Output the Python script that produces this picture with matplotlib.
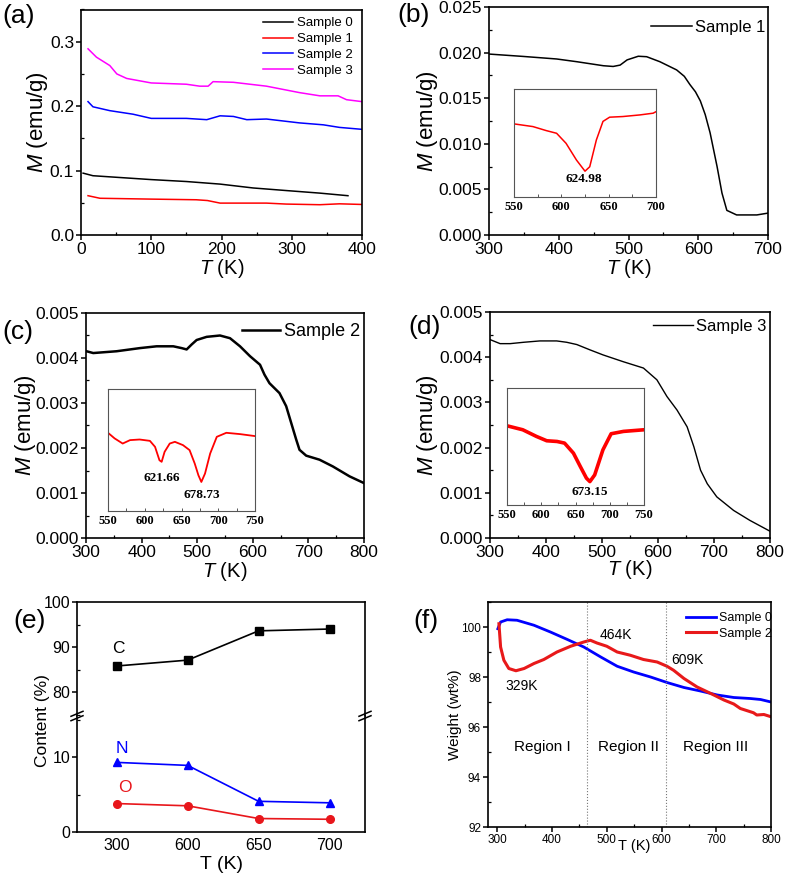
import numpy as np
import matplotlib
matplotlib.use('Agg')
import matplotlib.pyplot as plt
from matplotlib.ticker import MultipleLocator

plt.rcParams['font.family'] = ['Liberation Sans', 'DejaVu Sans']
plt.rcParams['mathtext.fontset'] = 'custom'
plt.rcParams['mathtext.it'] = 'Liberation Sans:italic'
plt.rcParams['mathtext.rm'] = 'Liberation Sans'

W, H = 787, 876

# (a) M-T, low temperature
a_t0 = [3, 17, 100, 150, 198, 245, 292, 340, 380]
a_m0 = [0.096, 0.092, 0.086, 0.083, 0.079, 0.073, 0.069, 0.065, 0.061]
a_t1 = [10, 27, 100, 164, 180, 198, 264, 292, 340, 368, 400]
a_m1 = [0.061, 0.057, 0.0557, 0.0547, 0.0535, 0.0495, 0.0495, 0.048, 0.047, 0.0484, 0.0474]
a_t2 = [10, 17, 41, 74, 100, 150, 179, 198, 217, 236, 264, 311, 345, 368, 400]
a_m2 = [0.207, 0.199, 0.193, 0.1875, 0.181, 0.181, 0.179, 0.185, 0.184, 0.179, 0.180,
        0.174, 0.171, 0.167, 0.164]
a_t3 = [10, 22, 41, 51, 65, 100, 150, 169, 181, 188, 217, 264, 311, 340, 366, 378, 400]
a_m3 = [0.289, 0.276, 0.263, 0.250, 0.243, 0.236, 0.234, 0.231, 0.231, 0.238, 0.237,
        0.231, 0.221, 0.216, 0.216, 0.210, 0.207]

# (b) sample 1
b_t = [300, 349, 397, 426, 464, 478, 488, 498, 514, 526, 545, 569, 580, 588, 596, 603,
       610, 617, 627, 634, 641, 655, 684, 700]
b_m = [0.01984, 0.01958, 0.0193, 0.0190, 0.01856, 0.01848, 0.01863, 0.0192, 0.0196,
       0.01955, 0.0190, 0.0181, 0.0174, 0.0165, 0.0157, 0.0147, 0.0132, 0.0112, 0.0075,
       0.0046, 0.0027, 0.0022, 0.0022, 0.0024]
bi_t = [550, 570, 584, 595, 605, 616, 625, 630, 637, 644, 651, 665, 683, 697, 700]
bi_m = [0.677, 0.652, 0.615, 0.59, 0.497, 0.342, 0.239, 0.28, 0.528, 0.70, 0.739, 0.745,
        0.76, 0.776, 0.79]

# (c) sample 2
c_t = [301, 313, 355, 397, 427, 457, 472, 481, 490, 499, 517, 541, 559, 577, 595, 613,
       621, 630, 648, 660, 669, 678, 684, 696, 720, 744, 774, 800]
c_m = [0.00415, 0.00411, 0.00415, 0.00422, 0.00426, 0.00426, 0.00422, 0.00419, 0.0043,
       0.0044, 0.00447, 0.0045, 0.00444, 0.00426, 0.00404, 0.00385, 0.00363, 0.00344,
       0.00322, 0.00293, 0.00256, 0.00219, 0.00196, 0.00183, 0.00174, 0.00159, 0.00137,
       0.00122]
ci_t = [550, 559, 570, 580, 593, 607, 614, 620, 623, 627, 634, 641, 652, 661, 668, 673,
        677, 682, 689, 698, 711, 730, 750]
ci_m = [0.641, 0.595, 0.553, 0.581, 0.586, 0.575, 0.526, 0.416, 0.403, 0.485, 0.553,
        0.567, 0.54, 0.499, 0.389, 0.293, 0.238, 0.307, 0.471, 0.608, 0.641, 0.63, 0.614]

# (d) sample 3
d_t = [300, 318, 336, 360, 389, 419, 437, 455, 479, 502, 538, 574, 598, 616, 634, 652,
       664, 676, 688, 705, 735, 764, 800]
d_m = [0.00439, 0.0043, 0.0043, 0.00433, 0.00436, 0.00436, 0.00433, 0.00428, 0.00416,
       0.00405, 0.0039, 0.00376, 0.0035, 0.00313, 0.00283, 0.00246, 0.00202, 0.0015,
       0.0012, 0.00091, 0.00061, 0.00039, 0.00015]
di_t = [550, 573, 593, 608, 623, 634, 647, 657, 666, 671, 678, 690, 702, 720, 750]
di_m = [0.677, 0.643, 0.586, 0.549, 0.543, 0.529, 0.443, 0.329, 0.229, 0.2, 0.257,
        0.471, 0.609, 0.629, 0.643]

# (e) element content
e_temps = ['300', '600', '650', '700']
e_c = [85.8, 87.1, 93.6, 94.0]
e_n = [9.3, 8.9, 4.1, 3.9]
e_o = [3.8, 3.5, 1.8, 1.7]

# (f) TGA
f_t0 = [301, 306, 318, 336, 367, 397, 428, 458, 489, 519, 549, 580, 610, 641, 671, 702,
        732, 762, 781, 800]
f_w0 = [99.93, 100.2, 100.29, 100.27, 100.07, 99.8, 99.5, 99.2, 98.8, 98.43, 98.2, 98.0,
        97.78, 97.58, 97.44, 97.28, 97.18, 97.14, 97.1, 97.0]
f_t2 = [303, 306, 312, 321, 334, 349, 367, 385, 409, 434, 458, 470, 482, 500, 519, 543,
        567, 592, 610, 622, 641, 665, 690, 714, 732, 744, 768, 774, 787, 800]
f_w2 = [100.13, 99.2, 98.67, 98.34, 98.25, 98.34, 98.54, 98.7, 99.0, 99.23, 99.4, 99.47,
        99.36, 99.23, 99.0, 98.87, 98.7, 98.6, 98.43, 98.27, 97.94, 97.6, 97.34, 97.08,
        96.92, 96.74, 96.57, 96.48, 96.5, 96.41]
f_regions = [464, 609]

fig = plt.figure(figsize=(W / 100, H / 100), dpi=100)


def px_axes(l, t, r, b):
    ax = fig.add_axes([l / W, 1 - b / H, (r - l) / W, (b - t) / H])
    ax._px = (l, t, r, b)
    return ax


def style(ax, lsize=12.5):
    for s in ax.spines.values():
        s.set_linewidth(1.2)
    ax.tick_params(which='major', direction='out', length=3.5, width=1.1,
                   labelsize=lsize, pad=1.5)
    ax.tick_params(which='minor', direction='in', length=2.5, width=0.9)


def labels(ax, xl, yl, xtop, yright, xs=14.5, ys=16, xcen=None):
    l, t, r, b = ax._px
    ax.set_xlabel(xl, fontsize=xs)
    ax.set_ylabel(yl, fontsize=ys)
    xc = 0.5 if xcen is None else (xcen - l) / (r - l)
    ax.xaxis.set_label_coords(xc, (b - xtop) / (b - t))
    ax.yaxis.set_label_coords((yright - l) / (r - l), 0.5)


def legend(ax, x, y, size, hl, tp=0.3, ls=0.1):
    l, t, r, b = ax._px
    ax.legend(loc='upper left', bbox_to_anchor=((x - l) / (r - l), (b - y) / (b - t)),
              frameon=False, fontsize=size, borderpad=0, borderaxespad=0,
              handlelength=hl, handletextpad=tp, labelspacing=ls)


def inset(l, t, r, b, xmin, xmax):
    ax = px_axes(l, t, r, b)
    for s in ax.spines.values():
        s.set_linewidth(0.8)
        s.set_color('#555555')
    ax.set_xlim(xmin, xmax)
    ax.set_ylim(0, 1)
    ax.set_yticks([])
    ax.xaxis.set_major_locator(MultipleLocator(50))
    ax.xaxis.set_minor_locator(MultipleLocator(25))
    ax.tick_params(which='both', direction='in', length=2.5, width=0.7, color='#555555',
                   pad=3)
    for lb in ax.get_xticklabels():
        lb.set_fontfamily('Liberation Serif')
        lb.set_fontweight('bold')
        lb.set_fontsize(9)
    return ax


def note(ax, x, y, s):
    ax.text(x, y, s, ha='center', va='center', fontsize=9.5, fontweight='bold',
            family='Liberation Serif')


# ---- (a)
ax = px_axes(81, 9.5, 362, 235)
ax.plot(a_t0, a_m0, color='black', lw=1.1, label='Sample 0')
ax.plot(a_t1, a_m1, color='red', lw=1.1, label='Sample 1')
ax.plot(a_t2, a_m2, color='blue', lw=1.1, label='Sample 2')
ax.plot(a_t3, a_m3, color='#ff00ff', lw=1.1, label='Sample 3')
ax.set_xlim(0, 400)
ax.set_ylim(0, 0.35)
ax.xaxis.set_major_locator(MultipleLocator(100))
ax.xaxis.set_minor_locator(MultipleLocator(50))
ax.yaxis.set_major_locator(MultipleLocator(0.1))
ax.yaxis.set_minor_locator(MultipleLocator(0.05))
style(ax)
labels(ax, '$T$ (K)', '$M$ (emu/g)', 257, 50)
legend(ax, 263, 17, 9.5, 2.3, 0.3, 0.28)

# ---- (b)
ax = px_axes(489, 7, 768, 235)
ax.plot(b_t, b_m, color='black', lw=1.1, label='Sample 1')
ax.set_xlim(300, 700)
ax.set_ylim(0, 0.025)
ax.xaxis.set_major_locator(MultipleLocator(100))
ax.xaxis.set_minor_locator(MultipleLocator(50))
ax.yaxis.set_major_locator(MultipleLocator(0.005))
ax.yaxis.set_minor_locator(MultipleLocator(0.0025))
style(ax)
labels(ax, '$T$ (K)', '$M$ (emu/g)', 257, 440)
legend(ax, 651, 20, 12, 2.45, 0.2)
ax = inset(514, 89, 656, 197, 550, 700)
ax.plot(bi_t, bi_m, color='red', lw=1.1)
note(ax, 624, 0.17, '624.98')

# ---- (c)
ax = px_axes(86, 313, 364, 538)
ax.plot(c_t, c_m, color='black', lw=1.8, label='Sample 2')
ax.set_xlim(300, 800)
ax.set_ylim(0, 0.005)
ax.xaxis.set_major_locator(MultipleLocator(100))
ax.xaxis.set_minor_locator(MultipleLocator(50))
ax.yaxis.set_major_locator(MultipleLocator(0.001))
ax.yaxis.set_minor_locator(MultipleLocator(0.0005))
style(ax)
labels(ax, '$T$ (K)', '$M$ (emu/g)', 560, 38)
legend(ax, 242, 323, 13, 2.1, 0.2)
ax = inset(108, 389, 255, 511, 550, 750)
ax.plot(ci_t, ci_m, color='red', lw=1.3)
note(ax, 623, 0.27, '621.66')
note(ax, 677, 0.13, '678.73')

# ---- (d)
ax = px_axes(490, 312, 770, 538)
ax.plot(d_t, d_m, color='black', lw=1.0, label='Sample 3')
ax.set_xlim(300, 800)
ax.set_ylim(0, 0.005)
ax.xaxis.set_major_locator(MultipleLocator(100))
ax.xaxis.set_minor_locator(MultipleLocator(50))
ax.yaxis.set_major_locator(MultipleLocator(0.001))
ax.yaxis.set_minor_locator(MultipleLocator(0.0005))
style(ax)
labels(ax, '$T$ (K)', '$M$ (emu/g)', 558, 440)
legend(ax, 653, 319, 12, 2.4, 0.2)
ax = inset(507, 388, 644, 505, 550, 750)
ax.plot(di_t, di_m, color='red', lw=2.6)
note(ax, 671, 0.11, '673.15')

# ---- (e) broken axis
xe = np.arange(len(e_temps))
axt = px_axes(77, 602, 365, 716)
axb = px_axes(77, 716, 365, 832)
axt.plot(xe, e_c, color='black', marker='s', ms=5.5, lw=1.2)
axb.plot(xe, e_n, color='blue', marker='^', ms=6, lw=1.2)
axb.plot(xe, e_o, color='#e8161b', marker='o', ms=5.5, lw=1.2)
for a in (axt, axb):
    a.set_xlim(-0.56, 3.5)
    style(a, 11.5)
    a.tick_params(axis='x', which='both', length=0)
axt.set_ylim(74.7, 100)
axb.set_ylim(0, 15.5)
axt.yaxis.set_major_locator(MultipleLocator(10))
axt.yaxis.set_minor_locator(MultipleLocator(5))
axb.yaxis.set_major_locator(MultipleLocator(10))
axb.yaxis.set_minor_locator(MultipleLocator(5))
axt.spines['bottom'].set_visible(False)
axb.spines['top'].set_visible(False)
axt.set_xticks([])
axb.set_xticks(xe)
axb.set_xticklabels(e_temps)
axb.tick_params(axis='x', pad=4)
axb.set_xlabel('T (K)', fontsize=14)
axb.xaxis.set_label_coords(0.5, (832 - 856) / 116)
for xx in (0, 1):
    for dy in (-2.2 / 116, 2.2 / 116):
        axb.plot([xx - 6 / 288, xx + 6 / 288], [1 + dy - 2.5 / 116, 1 + dy + 2.5 / 116],
                 transform=axb.transAxes, color='black', lw=1.1, clip_on=False)
axt.text(0.02, 89.6, 'C', ha='center', va='center', fontsize=12.5, color='black')
axb.text(0.07, 11.2, 'N', ha='center', va='center', fontsize=12.5, color='blue')
axb.text(0.11, 6.0, 'O', ha='center', va='center', fontsize=12.5, color='#e8161b')
fig.text(43 / W, 1 - 721 / H, 'Content (%)', rotation=90, ha='center', va='center',
         fontsize=12.5)

# ---- (f)
ax = px_axes(488, 602, 771, 827)
ax.plot(f_t0, f_w0, color='blue', lw=2.0, label='Sample 0')
ax.plot(f_t2, f_w2, color='#e8191a', lw=2.2, label='Sample 2')
for xr in f_regions:
    ax.axvline(xr, color='#777777', ls=':', lw=0.8)
ax.set_xlim(283, 800)
ax.set_ylim(92, 101)
ax.xaxis.set_major_locator(MultipleLocator(100))
ax.xaxis.set_minor_locator(MultipleLocator(50))
ax.yaxis.set_major_locator(MultipleLocator(2))
ax.yaxis.set_minor_locator(MultipleLocator(1))
style(ax, 8.5)
labels(ax, 'T (K)', 'Weight (wt%)', 839, 462, 10.5, 11, xcen=634)
legend(ax, 686, 612, 9, 2.4, 0.25, 0.3)
ax.text(345, 97.65, '329K', ha='center', va='center', fontsize=10)
ax.text(516, 99.67, '464K', ha='center', va='center', fontsize=10)
ax.text(648, 98.67, '609K', ha='center', va='center', fontsize=10)
ax.text(382, 95.2, 'Region I', ha='center', va='center', fontsize=11)
ax.text(539, 95.2, 'Region II', ha='center', va='center', fontsize=11)
ax.text(698, 95.2, 'Region III', ha='center', va='center', fontsize=11)

# panel letters
for s, x, y in [('(a)', 2, 16), ('(b)', 397, 15), ('(c)', 2, 332), ('(d)', 408, 327),
                ('(e)', 13, 621), ('(f)', 413, 621)]:
    fig.text(x / W, 1 - y / H, s, ha='left', va='center', fontsize=19)

fig.savefig('out.png', dpi=100)
